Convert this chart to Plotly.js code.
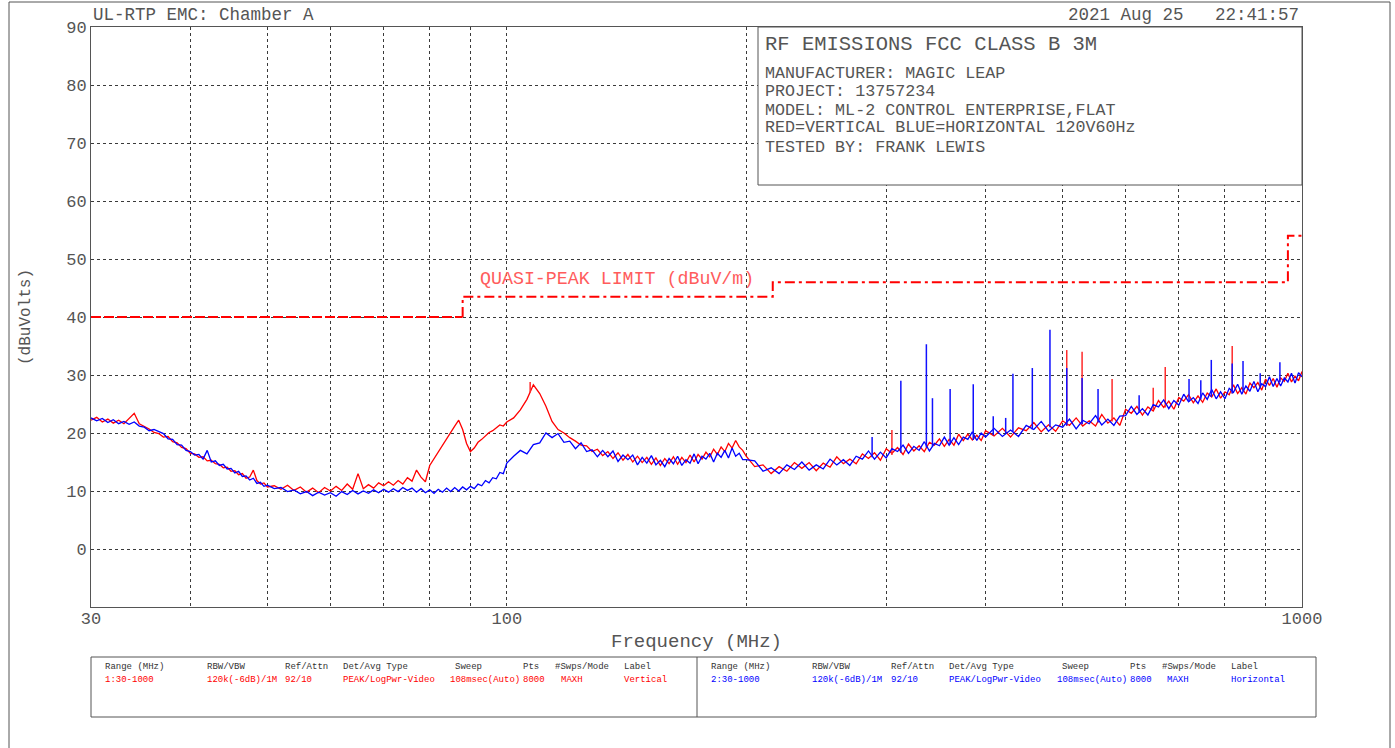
<!DOCTYPE html>
<html>
<head>
<meta charset="utf-8">
<script src="https://cdn.plot.ly/plotly-3.0.1.min.js"></script>
<style>
  html, body { margin: 0; padding: 0; background: #ffffff; }
  #chart { width: 1395px; height: 748px; }
</style>
</head>
<body>
<div id="chart"></div>
<script>
// ---------------- DATA ----------------
const freqMHz = [
  30,30.5,31,31.5,32,32.5,33,33.5,34,34.5,35,35.5,36,36.5,37,37.5,38,38.5,39,39.5,40,40.5,41,41.5,42,42.5,43,43.5,44,44.5,45,45.5,46,46.5,47,47.5,48,48.5,49,49.5,50,
  51,52,53,54,55,56,57,58,59,60,61,62,63,64,65,66,67,68,69,70,71,72,73,74,75,76,77,78,79,80,81,82,83,84,85,86,87,88,89,90,91,92,93,94,95,96,97,98,99,100,
  102,104,106,108,110,112,114,116,118,120,122,124,126,128,130,132,134,136,138,140,142,144,146,148,150,152,154,156,158,160,162,164,166,168,170,172,174,176,178,180,182,184,186,188,190,192,194,196,198,200,
  205,210,215,220,225,230,235,240,245,250,255,260,265,270,275,280,285,290,295,300,305,310,315,320,325,330,335,340,345,350,355,360,365,370,375,380,385,390,395,400,
  410,420,430,440,450,460,470,480,490,500,510,520,530,540,550,560,570,580,590,600,610,620,630,640,650,660,670,680,690,700,710,720,730,740,750,760,770,780,790,800,810,820,830,840,850,860,870,880,890,900,910,920,930,940,950,960,970,980,990,1000
];

// Red = Vertical polarisation (dBuV)
const verticalLevel = [
  22.2,22.7,21.9,22.4,21.7,22.2,21.6,22.5,23.4,21.6,21.2,20.7,20.1,19.9,19.3,19.4,18.5,18.3,17.5,17.3,16.5,16.4,15.8,15.9,15.2,15.3,14.7,14.6,14.0,14.1,13.4,13.5,12.8,13.0,12.2,12.4,13.6,11.8,11.2,11.4,10.7,
  10.9,10.3,11.0,10.1,10.7,9.8,10.5,9.7,10.6,10.0, 10.8,10.1,11.2,10.3,13.0,10.4,11.1,10.5,11.4,10.9, 11.6,11.0,11.8,11.2,12.3,11.7,13.6,12.4,11.6,14.4, 15.6,16.6,17.8,18.9,20.2,21.2,22.2,20.6,18.2,16.8, 17.4,18.4,18.9,19.5,20.1,20.4,20.9,21.4,21.2,21.9,
  22.6,24.0,25.8,28.3,26.8,24.6,22.0,20.6,20.0,19.2, 18.6,17.9,17.8,16.8,17.2,16.1,16.8,15.6,16.6,15.3, 16.3,15.0,16.0,14.9,15.8,14.6,15.7,14.4,15.6,14.7, 15.9,14.6,15.8,14.9,16.2,15.0,16.3,15.5,16.7,15.9, 17.2,16.3,17.6,16.8,18.2,17.4,18.7,17.6,17.0,16.0,
  14.2,14.5,13.0,14.2,13.4,14.9,13.9,14.9,13.5,14.8, 14.1,15.9,14.7,15.5,14.7,16.4,15.6,16.6,15.3,17.3, 16.5,17.5,16.3,18.1,16.9,17.8,16.8,18.4,17.9,19.0, 17.7,18.9,17.9,19.8,18.7,19.8,18.8,19.6,18.7,20.4,
  19.5,20.8,19.3,20.9,20.4,21.8,20.2,21.4,20.3,22.1, 21.3,22.6,21.2,22.1,21.2,23.2,21.7,22.6,21.3,24.1, 23.4,24.6,23.1,24.5,23.8,25.6,24.4,25.5,24.1,26.1, 25.5,26.6,25.2,26.4,25.3,26.9,26.2,27.6,26.0,27.1, 26.6,28.3,26.8,27.8,26.7,28.6,27.8,28.7,27.4,29.3, 28.2,29.4,27.9,29.5,28.9,30.3,28.8,29.8,29.0,30.6
];

// Blue = Horizontal polarisation (dBuV)
const horizontalLevel = [
  22.6,22.1,22.5,21.8,22.3,21.6,22.0,21.5,21.9,21.2,21.0,20.4,20.6,20.3,19.9,19.0,18.9,18.0,17.9,17.0,16.8,16.2,16.3,15.5,17.0,15.0,15.2,14.4,14.6,13.8,13.9,13.1,13.4,12.5,12.6,11.9,12.2,11.3,11.5,10.8,11.0,
  10.4,10.6,9.9,10.2,9.5,9.9,9.2,9.8,9.3,9.7, 9.1,9.9,9.4,10.1,9.5,10.0,9.6,10.2,9.7,10.3, 9.8,10.4,9.9,10.6,10.1,10.5,9.8,10.4,9.7,10.2, 9.6,10.3,9.8,10.5,9.9,10.6,10.0,10.7,10.2,10.8, 10.4,11.2,10.9,11.8,11.4,12.3,12.1,13.2,13.0,14.8,
  16.0,17.0,16.4,18.0,18.3,20.0,19.2,19.9,18.4,18.6, 17.3,18.3,16.8,17.1,15.9,17.0,15.9,16.9,15.1,16.2, 15.4,16.2,14.5,15.8,14.8,16.1,14.5,15.3,14.2,15.6, 14.7,16.0,14.4,15.4,14.8,16.4,14.7,16.0,15.5,16.5, 15.0,16.5,15.8,17.0,15.7,17.4,16.0,16.5,15.4,15.4,
  15.2,13.4,14.0,13.0,14.5,13.7,15.0,13.6,14.5,13.8, 15.5,14.5,15.4,14.4,16.0,15.5,16.9,15.5,16.7,15.7, 17.3,16.8,17.9,16.5,17.7,17.0,18.5,16.9,18.2,17.8, 19.3,17.9,19.2,18.0,19.3,18.9,20.2,18.7,20.0,19.3,
  20.8,19.4,20.5,19.4,21.3,20.6,22.0,20.3,21.4,21.0, 22.4,20.7,22.2,21.6,23.0,21.4,22.4,21.3,22.9,23.0, 24.6,23.2,24.2,23.1,24.9,24.5,25.7,24.2,25.6,24.8, 26.7,25.4,26.1,25.1,26.9,25.8,27.5,25.9,27.1,25.9, 27.7,27.0,28.4,26.7,28.1,27.2,28.9,27.1,28.5,28.0, 29.7,28.0,29.4,28.1,29.5,28.8,30.3,28.6,30.4,29.7
];

// Narrow emission spikes (frequency, top, local floor)
const hSpikeFreq = [288, 313, 337, 343, 361, 386, 409, 424, 433, 458, 482, 506, 529, 554, 624, 721, 746, 769, 817, 843, 886, 938];
const hSpikeTop  = [19.3, 29.0, 35.3, 26.0, 27.6, 28.4, 22.9, 22.6, 30.2, 31.2, 37.8, 31.2, 29.5, 27.6, 26.5, 29.3, 29.1, 32.6, 32.0, 32.4, 30.3, 32.2];
const hSpikeBase = [15.8, 16.6, 17.5, 17.7, 18.0, 18.8, 19.6, 20.0, 20.2, 20.6, 21.0, 21.3, 21.5, 21.8, 23.5, 25.4, 25.8, 26.2, 26.8, 27.2, 28.0, 28.8];
const vSpikeFreq = [107, 305, 506, 529, 577, 650, 673, 817];
const vSpikeTop  = [28.8, 20.5, 34.3, 34.0, 29.3, 27.8, 31.4, 35.0];
const vSpikeBase = [27.0, 16.2, 21.2, 21.5, 22.0, 24.0, 24.4, 26.8];

// FCC Class B 3 m quasi-peak limit
const limitFreq  = [30, 88, 88, 216, 216, 960, 960, 1000];
const limitLevel = [40, 40, 43.5, 43.5, 46, 46, 54, 54];

// Axis ticks
const xTickVals = [30,40,50,60,70,80,90,100,200,300,400,500,600,700,800,900,1000];
const xTickText = ['30','','','','','','','100','','','','','','','','','1000'];
const yTickVals = [0,10,20,30,40,50,60,70,80,90];
const yTickText = ['0','10','20','30','40','50','60','70','80','90'];

// Text content
const titleLeft = 'UL-RTP EMC: Chamber A';
const titleRight = '2021 Aug 25\u00a0\u00a0\u00a022:41:57';
const infoTitle = 'RF EMISSIONS FCC CLASS B 3M';
const infoLines = [
  'MANUFACTURER: MAGIC LEAP',
  'PROJECT: 13757234',
  'MODEL: ML-2 CONTROL ENTERPRISE,FLAT',
  'RED=VERTICAL BLUE=HORIZONTAL 120V60Hz',
  'TESTED BY: FRANK LEWIS'
];
const limitLabel = 'QUASI-PEAK LIMIT (dBuV/m)';
const tableHeaders = ['Range (MHz)','RBW/VBW','Ref/Attn','Det/Avg Type','Sweep','Pts','#Swps/Mode','Label'];
const tableRowVertical = ['1:30-1000','120k(-6dB)/1M','92/10','PEAK/LogPwr-Video','108msec(Auto)','8000','MAXH','Vertical'];
const tableRowHorizontal = ['2:30-1000','120k(-6dB)/1M','92/10','PEAK/LogPwr-Video','108msec(Auto)','8000','MAXH','Horizontal'];

// ---------------- LAYOUT HELPERS ----------------
const W = 1395, H = 748;
const PL = 91, PR = 1302, PT = 27, PB = 607;
const px = x => (x - PL) / (PR - PL);
const py = y => (PB - y) / (PB - PT);
const FONT = 'Liberation Mono, DejaVu Sans Mono, monospace';
const GREY = '#555555';

function spikeXY(f, top, base) {
  const xs = [], ys = [];
  for (let i = 0; i < f.length; i++) {
    xs.push(f[i], f[i], null);
    ys.push(base[i], top[i], null);
  }
  return {xs, ys};
}
const vS = spikeXY(vSpikeFreq, vSpikeTop, vSpikeBase);
const hS = spikeXY(hSpikeFreq, hSpikeTop, hSpikeBase);

const traces = [
  {x: freqMHz, y: verticalLevel, type: 'scatter', mode: 'lines',
   line: {color: '#ff0000', width: 1.3}, hoverinfo: 'skip'},
  {x: vS.xs, y: vS.ys, type: 'scatter', mode: 'lines',
   line: {color: '#ff2a2a', width: 1.5}, hoverinfo: 'skip'},
  {x: freqMHz, y: horizontalLevel, type: 'scatter', mode: 'lines',
   line: {color: '#0000ff', width: 1.3}, hoverinfo: 'skip'},
  {x: hS.xs, y: hS.ys, type: 'scatter', mode: 'lines',
   line: {color: '#1010ff', width: 1.5}, hoverinfo: 'skip'},
  {x: limitFreq.slice(0, 2), y: limitLevel.slice(0, 2), type: 'scatter', mode: 'lines',
   line: {color: '#ff0000', width: 2, dash: '10px,3px'}, hoverinfo: 'skip'},
  {x: limitFreq.slice(1), y: limitLevel.slice(1), type: 'scatter', mode: 'lines',
   line: {color: '#ff0000', width: 2, dash: '10px,4px,3px,4px'}, hoverinfo: 'skip'}
];

const annotations = [];
function addText(text, x, y, opts) {
  annotations.push(Object.assign({
    text: text, xref: 'paper', yref: 'paper', x: px(x), y: py(y),
    xanchor: 'left', yanchor: 'middle', showarrow: false,
    font: {family: FONT, size: 17, color: GREY}
  }, opts || {}));
}

addText(titleLeft, 91, 15, {font: {family: FONT, size: 17.5, color: GREY}});
addText(titleRight, 1301, 15, {xanchor: 'right', font: {family: FONT, size: 17.5, color: GREY}});
addText(infoTitle, 763, 45, {font: {family: FONT, size: 20.5, color: GREY}});
const infoY = [73, 91, 110, 128, 147];
infoLines.forEach((t, i) => addText(t, 763, infoY[i], {font: {family: FONT, size: 16.7, color: GREY}}));
addText(limitLabel, 617, 279, {xanchor: 'center', font: {family: FONT, size: 18.3, color: '#ff5c5c'}});

const colL = [103, 205, 283, 341, 453, 521, 553, 622];
const colLd = [103, 205, 283, 341, 448, 521, 559, 622];
const colR = [709, 810, 889, 947, 1060, 1128, 1160, 1229];
const colRd = [709, 810, 889, 947, 1055, 1128, 1165, 1229];
tableHeaders.forEach((t, i) => {
  addText(t, colL[i], 667, {font: {family: FONT, size: 9, color: '#333'}});
  addText(t, colR[i], 667, {font: {family: FONT, size: 9, color: '#333'}});
});
tableRowVertical.forEach((t, i) => addText(t, colLd[i], 680, {font: {family: FONT, size: 9, color: '#ff0000'}}));
tableRowHorizontal.forEach((t, i) => addText(t, colRd[i], 680, {font: {family: FONT, size: 9, color: '#0000ff'}}));

const shapes = [
  {type: 'rect', xref: 'paper', yref: 'paper', x0: px(9), x1: px(1390), y0: py(760), y1: py(2),
   line: {color: GREY, width: 1}, fillcolor: 'rgba(0,0,0,0)', layer: 'below'},
  {type: 'rect', xref: 'paper', yref: 'paper', x0: px(758), x1: px(1302), y0: py(185), y1: py(27),
   line: {color: GREY, width: 1}, fillcolor: '#ffffff', layer: 'above'},
  {type: 'rect', xref: 'paper', yref: 'paper', x0: px(91), x1: px(1316), y0: py(717), y1: py(657),
   line: {color: GREY, width: 1}, fillcolor: 'rgba(0,0,0,0)'},
  {type: 'line', xref: 'paper', yref: 'paper', x0: px(697), x1: px(697), y0: py(717), y1: py(657),
   line: {color: GREY, width: 1}}
];

const layout = {
  width: W, height: H,
  margin: {l: PL, r: W - PR, t: PT, b: H - PB, pad: 0},
  paper_bgcolor: '#ffffff', plot_bgcolor: '#ffffff',
  showlegend: false, hovermode: false,
  xaxis: {
    type: 'log', range: [Math.log10(30), Math.log10(1000)],
    tickmode: 'array', tickvals: xTickVals, ticktext: xTickText,
    showgrid: true, gridcolor: '#3a3a3a', gridwidth: 1, griddash: '3px,3px',
    showline: true, mirror: true, linecolor: GREY, linewidth: 1,
    ticks: '', zeroline: false, automargin: false, ticklabelstandoff: -4,
    tickfont: {family: FONT, size: 17, color: GREY},
    title: {text: 'Frequency (MHz)', font: {family: FONT, size: 19, color: GREY}, standoff: 5}
  },
  yaxis: {
    range: [-10, 90],
    tickmode: 'array', tickvals: yTickVals, ticktext: yTickText,
    showgrid: true, gridcolor: '#3a3a3a', gridwidth: 1, griddash: '3px,3px',
    showline: true, mirror: true, linecolor: GREY, linewidth: 1,
    ticks: '', zeroline: false, automargin: false,
    tickfont: {family: FONT, size: 17, color: GREY},
    title: {text: '(dBuVolts)', font: {family: FONT, size: 16, color: GREY}, standoff: 31}
  },
  annotations: annotations,
  shapes: shapes
};

Plotly.newPlot('chart', traces, layout, {staticPlot: true, displayModeBar: false});
</script>
</body>
</html>
